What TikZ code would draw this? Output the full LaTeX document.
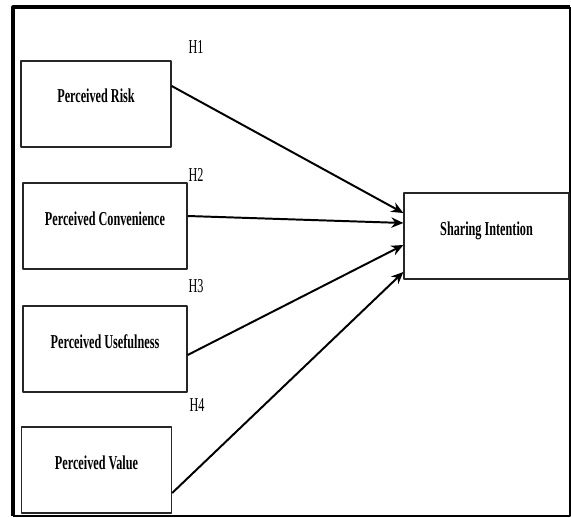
\documentclass[tikz,border=0pt]{standalone}
\usepackage{fontspec}
\setmainfont{Liberation Serif}
\newfontfamily\narrowfont{Liberation Serif}[FakeStretch=0.62]
\usetikzlibrary{arrows.meta}
\tikzset{
  every picture/.style={line join=round, >=Stealth},
  varbox/.style={draw=black!85, line width=0.9pt, minimum height=2.15cm, inner sep=0pt,
    text height=0.35cm, text depth=0.4cm, font=\narrowfont\fontsize{14}{16}\selectfont\bfseries},
  hyp/.style={font=\narrowfont\fontsize{14}{16}\selectfont},
  path/.style={line width=1.4pt, -{Stealth[length=3mm, width=2.6mm]}},
}

\begin{document}
\begin{tikzpicture}[x=0.025cm, y=-0.025cm]
\useasboundingbox (0,0) rectangle (571,518);
\draw[line width=2.2pt] (13,516) -- (13,7) -- (570,7);
\draw[line width=1.2pt] (13,516) -- (570,516) -- (570,7);
\node[varbox, minimum width=3.75cm] (risk) at (96,104) {Perceived Risk};
\node[varbox, minimum width=4.1cm] (conv) at (105,226) {Perceived Convenience};
\node[varbox, minimum width=4.1cm] (useful) at (105,349) {Perceived Usefulness};
\node[varbox, minimum width=3.75cm] (value) at (96.5,470) {Perceived Value};
\node[varbox, minimum width=4.125cm] (share) at (486.5,236) {Sharing Intention};
\node[hyp] (h1) at (196,47) {H1};
\node[hyp] (h2) at (196,175) {H2};
\node[hyp] (h3) at (196,286) {H3};
\node[hyp] (h4) at (197,405) {H4};
\draw[path] ([yshift=0.45cm]risk.east) -- ([yshift=0.575cm]share.west);
\draw[path] ([yshift=0.25cm]conv.east) -- ([yshift=0.325cm]share.west);
\draw[path] ([yshift=-0.15cm]useful.east) -- ([yshift=-0.225cm]share.west);
\draw[path] ([yshift=-0.575cm]value.east) -- ([yshift=-0.9cm]share.west);
\end{tikzpicture}
\end{document}
